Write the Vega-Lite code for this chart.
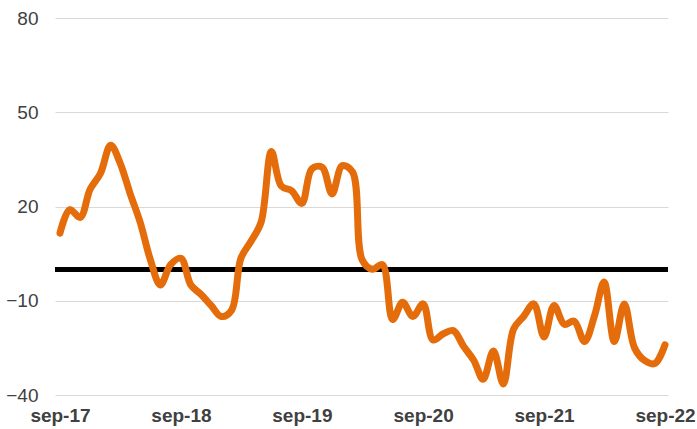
{
  "$schema": "https://vega.github.io/schema/vega-lite/v6.json",
  "width": 613,
  "height": 377,
  "autosize": {"type": "none"},
  "padding": {"left": 55, "top": 18, "right": 29, "bottom": 34},
  "background": "white",
  "config": {"view": {"stroke": null}, "font": "Liberation Sans"},
  "data": {"values": [
    {"date": "2017-09-01", "value": 11.5},
    {"date": "2017-10-01", "value": 19},
    {"date": "2017-11-01", "value": 16.5},
    {"date": "2017-12-01", "value": 25.5},
    {"date": "2018-01-01", "value": 30.5},
    {"date": "2018-02-01", "value": 39.5},
    {"date": "2018-03-01", "value": 34},
    {"date": "2018-04-01", "value": 24},
    {"date": "2018-05-01", "value": 15},
    {"date": "2018-06-01", "value": 3},
    {"date": "2018-07-01", "value": -5},
    {"date": "2018-08-01", "value": 1.5},
    {"date": "2018-09-01", "value": 3.5},
    {"date": "2018-10-01", "value": -5},
    {"date": "2018-11-01", "value": -8},
    {"date": "2018-12-01", "value": -11.5},
    {"date": "2019-01-01", "value": -15},
    {"date": "2019-02-01", "value": -13},
    {"date": "2019-03-01", "value": 3.5},
    {"date": "2019-04-01", "value": 9},
    {"date": "2019-05-01", "value": 15},
    {"date": "2019-06-01", "value": 37.5},
    {"date": "2019-07-01", "value": 26.5},
    {"date": "2019-08-01", "value": 25},
    {"date": "2019-09-01", "value": 21},
    {"date": "2019-10-01", "value": 32},
    {"date": "2019-11-01", "value": 32.5},
    {"date": "2019-12-01", "value": 24},
    {"date": "2020-01-01", "value": 33},
    {"date": "2020-02-01", "value": 31},
    {"date": "2020-03-01", "value": 3},
    {"date": "2020-04-01", "value": 0},
    {"date": "2020-05-01", "value": 1.5},
    {"date": "2020-06-01", "value": -16},
    {"date": "2020-07-01", "value": -10.5},
    {"date": "2020-08-01", "value": -15},
    {"date": "2020-09-01", "value": -11},
    {"date": "2020-10-01", "value": -22.5},
    {"date": "2020-11-01", "value": -20.5},
    {"date": "2020-12-01", "value": -19.5},
    {"date": "2021-01-01", "value": -24.5},
    {"date": "2021-02-01", "value": -29},
    {"date": "2021-03-01", "value": -35},
    {"date": "2021-04-01", "value": -26},
    {"date": "2021-05-01", "value": -36.5},
    {"date": "2021-06-01", "value": -19},
    {"date": "2021-07-01", "value": -15},
    {"date": "2021-08-01", "value": -11},
    {"date": "2021-09-01", "value": -21.5},
    {"date": "2021-10-01", "value": -11.5},
    {"date": "2021-11-01", "value": -17.5},
    {"date": "2021-12-01", "value": -16.5},
    {"date": "2022-01-01", "value": -23},
    {"date": "2022-02-01", "value": -14.5},
    {"date": "2022-03-01", "value": -4},
    {"date": "2022-04-01", "value": -23},
    {"date": "2022-05-01", "value": -11},
    {"date": "2022-06-01", "value": -25},
    {"date": "2022-07-01", "value": -29},
    {"date": "2022-08-01", "value": -30},
    {"date": "2022-09-01", "value": -24}
  ]},
  "layer": [
    {
      "mark": {"type": "rule", "color": "black", "strokeWidth": 4},
      "encoding": {"y": {"datum": 0, "type": "quantitative", "scale": {"domain": [-40, 80], "nice": false, "zero": false}}}
    },
    {
      "mark": {"type": "line", "color": "#E46C0A", "strokeWidth": 7, "interpolate": "catmull-rom", "strokeCap": "round", "strokeJoin": "round"},
      "encoding": {
        "x": {
          "field": "date",
          "type": "temporal",
          "scale": {"type": "utc", "domain": ["2017-08-17", "2022-09-10"]},
          "axis": {
            "title": null,
            "grid": false,
            "domain": false,
            "ticks": false,
            "values": [
              {"year": 2017, "month": 9, "date": 1, "utc": true},
              {"year": 2018, "month": 9, "date": 1, "utc": true},
              {"year": 2019, "month": 9, "date": 1, "utc": true},
              {"year": 2020, "month": 9, "date": 1, "utc": true},
              {"year": 2021, "month": 9, "date": 1, "utc": true},
              {"year": 2022, "month": 9, "date": 1, "utc": true}
            ],
            "labelExpr": "lower(utcFormat(datum.value, '%b-%y'))",
            "labelFontSize": 19,
            "labelFontWeight": "bold",
            "labelColor": "#404040",
            "labelPadding": 11,
            "labelOverlap": false,
            "labelBound": false,
            "labelFlush": false
          }
        },
        "y": {
          "field": "value",
          "type": "quantitative",
          "scale": {"domain": [-40, 80], "nice": false, "zero": false},
          "axis": {
            "title": null,
            "grid": true,
            "values": [-40, -10, 20, 50, 80],
            "domain": false,
            "ticks": false,
            "gridColor": "#d9d9d9",
            "gridWidth": 1,
            "labelFontSize": 19,
            "labelColor": "#404040",
            "labelPadding": 17
          }
        }
      }
    }
  ]
}
